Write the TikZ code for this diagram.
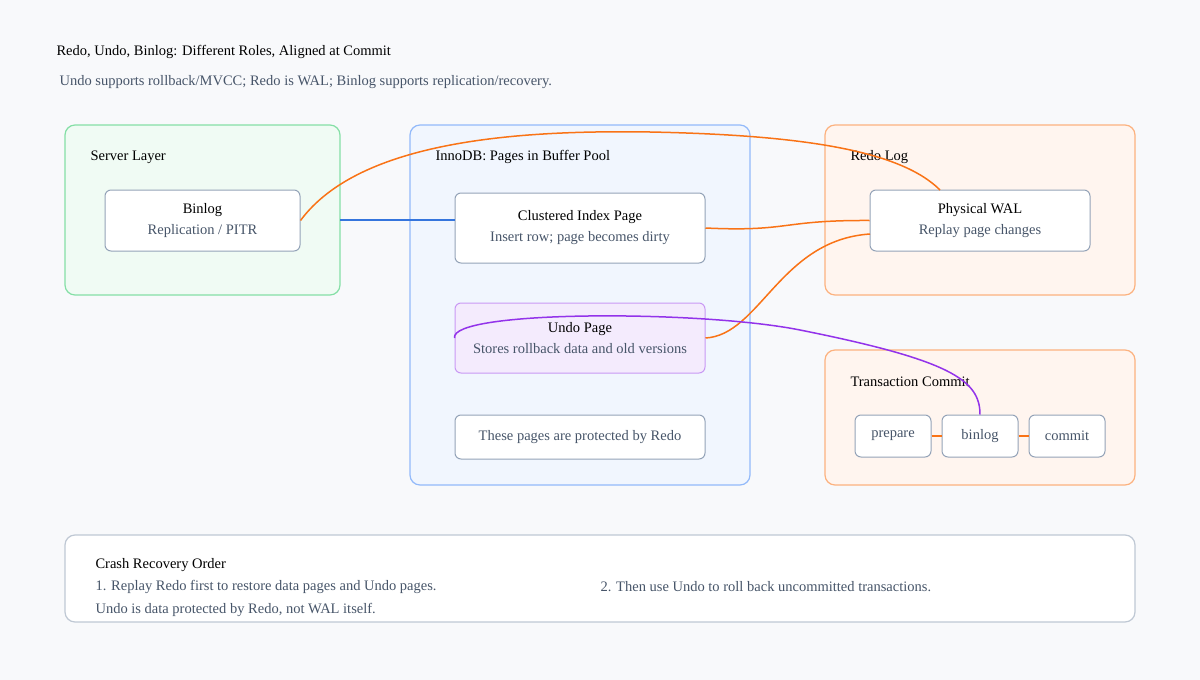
\documentclass[tikz,border=0pt]{standalone}
\usepackage{fontspec}
\setmainfont{Liberation Serif}
\begin{document}
\begin{tikzpicture}[x=1pt,y=-1pt,
  grp/.style={draw=#1!55, fill=#1!7, line width=1.2pt, rounded corners=10pt},
  nd/.style={draw=slate, fill=white, line width=1pt, rounded corners=6pt, align=center, font=\fontsize{14.5}{21}\selectfont},
  lbl/.style={anchor=west, font=\fontsize{14.5}{17}\selectfont, text=black},
  sub/.style={text=slate!70!black}]
\definecolor{slate}{HTML}{94A3B8}
\definecolor{bgc}{HTML}{F8F9FB}
\definecolor{gr}{HTML}{22C55E}
\definecolor{bl}{HTML}{3B82F6}
\definecolor{og}{HTML}{F97316}
\definecolor{pu}{HTML}{9333EA}
\definecolor{sl}{HTML}{475569}
\fill[bgc] (0,0) rectangle (1200,680);
\useasboundingbox (0,0) rectangle (1200,680);
\node[lbl] (title) at (53,52) {Redo, Undo, Binlog: Different Roles, Aligned at Commit};
\node[lbl,text=sl] (subt) at (56,82) {Undo supports rollback/MVCC; Redo is WAL; Binlog supports replication/recovery.};
\path[grp=gr] (65,125) rectangle (340,295);
\path[grp=bl] (410,125) rectangle (750,485);
\path[grp=og] (825,125) rectangle (1135,295);
\path[grp=og] (825,350) rectangle (1135,485);
\draw[draw=slate!60, fill=white, line width=1.2pt, rounded corners=10pt] (65,535) rectangle (1135,622);
\node[lbl] (gs) at (87,157) {Server Layer};
\node[lbl] (gi) at (432,157) {InnoDB: Pages in Buffer Pool};
\node[lbl] (gr2) at (847,157) {Redo Log};
\node[lbl] (gt) at (847,382) {Transaction Commit};
\node[nd, minimum width=195pt, minimum height=61pt] (binlog) at (202.5,220.5) {Binlog\\\textcolor{sl}{Replication / PITR}};
\node[nd, minimum width=250pt, minimum height=70pt] (cip) at (580,228) {Clustered Index Page\\\textcolor{sl}{Insert row; page becomes dirty}};
\node[nd, minimum width=220pt, minimum height=61pt] (wal) at (980,220.5) {Physical WAL\\\textcolor{sl}{Replay page changes}};
\node[nd, draw=pu!50, fill=pu!10, minimum width=250pt, minimum height=70pt] (undo) at (580,338) {Undo Page\\\textcolor{sl}{Stores rollback data and old versions}};
\node[nd, minimum width=250pt, minimum height=44pt] (prot) at (580,437) {\textcolor{sl}{These pages are protected by Redo}};
\node[nd, minimum width=76pt, minimum height=42pt] (prep) at (893,436) {\textcolor{sl}{prepare}};
\node[nd, minimum width=76pt, minimum height=42pt] (bl2) at (980,436) {\textcolor{sl}{binlog}};
\node[nd, minimum width=76pt, minimum height=42pt] (com) at (1067,436) {\textcolor{sl}{commit}};
\node[lbl] (cr) at (92,565) {Crash Recovery Order};
\node[lbl,text=sl] (c1) at (92,587) {1. Replay Redo first to restore data pages and Undo pages.};
\node[lbl,text=sl] (c2) at (597,587) {2. Then use Undo to roll back uncommitted transactions.};
\node[lbl,text=sl] (c3) at (92,610) {Undo is data protected by Redo, not WAL itself.};
\draw[bl!90!black, line width=1.5pt] (340,220) -- (cip.west |- 0,220);
\draw[og, line width=1.5pt] (binlog.east) .. controls (360,140) and (520,130) .. (650,132) .. controls (800,135) and (900,150) .. (940,190);
\draw[og, line width=1.5pt] (cip.east) .. controls (790,232) and (780,220) .. (wal.west);
\draw[og, line width=1.5pt] (undo.east) .. controls (760,335) and (780,240) .. (870,234);
\draw[pu, line width=1.5pt] (undo.west) .. controls (450,310) and (700,310) .. (800,330) .. controls (950,360) and (980,380) .. (bl2.north);
\draw[og, line width=1.5pt] (prep) -- (bl2);
\draw[og, line width=1.5pt] (bl2) -- (com);
\end{tikzpicture}
\end{document}
